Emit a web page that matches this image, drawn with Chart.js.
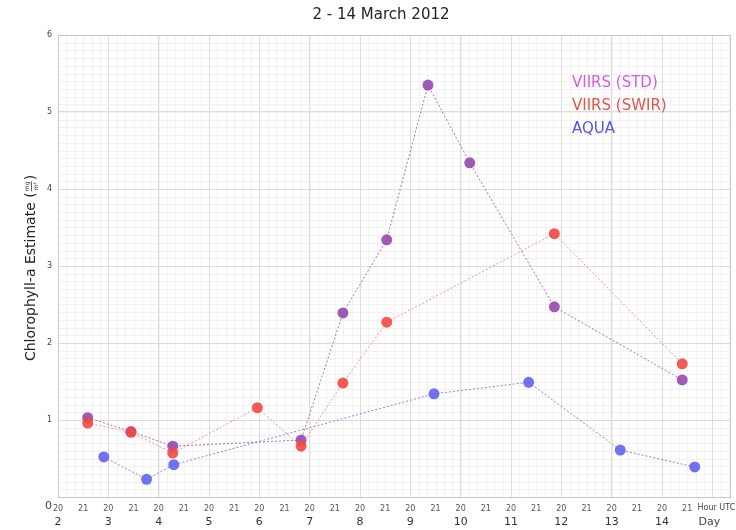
<!DOCTYPE html>
<html>
<head>
<meta charset="utf-8">
<script src="https://cdn.jsdelivr.net/npm/chart.js@4/dist/chart.umd.min.js"></script>
<style>
  html, body { margin: 0; padding: 0; background: #fff; }
  #wrap { width: 736px; height: 530px; position: relative; }
</style>
</head>
<body>
<div id="wrap"><canvas id="chart"></canvas></div>
<script>
// Данные (дни марта 2012, оценка хлорофилла-a)
const stdDays = [2.59, 3.45, 4.28, 6.83, 7.66, 8.53, 9.35, 10.18, 11.86, 14.40];
const stdValues = [1.03, 0.85, 0.66, 0.74, 2.39, 3.34, 5.35, 4.34, 2.47, 1.52];

const swirDays = [2.59, 3.45, 4.28, 5.96, 6.83, 7.66, 8.53, 11.86, 14.40];
const swirValues = [0.96, 0.84, 0.57, 1.16, 0.66, 1.48, 2.27, 3.42, 1.73];

const aquaDays = [2.91, 3.76, 4.30, 9.47, 11.35, 13.17, 14.65];
const aquaValues = [0.52, 0.23, 0.42, 1.34, 1.49, 0.61, 0.39];

const seriesNames = ['VIIRS (STD)', 'VIIRS (SWIR)', 'AQUA'];
const dayTicks = [2, 3, 4, 5, 6, 7, 8, 9, 10, 11, 12, 13, 14];
const hourLabels = ['20', '21'];
const titleText = '2 - 14 March 2012';

const FONT = '"DejaVu Sans", sans-serif';

function toPoints(xs, ys) {
    return xs.map((x, i) => ({ x: x, y: ys[i] }));
}

// Подписи, рамка и мелкая сетка
const decorPlugin = {
    id: 'decor',
    beforeDraw(chart) {
        const ctx = chart.ctx;
        const area = chart.chartArea;
        const xs = chart.scales.x;
        const ys = chart.scales.y;
        ctx.save();
        ctx.strokeStyle = '#f1f1f1';
        ctx.lineWidth = 1;
        for (let d = xs.min; d <= xs.max; d += 1 / 6) {
            const px = Math.round(xs.getPixelForValue(d)) + 0.5;
            ctx.beginPath(); ctx.moveTo(px, area.top); ctx.lineTo(px, area.bottom); ctx.stroke();
        }
        for (let v = ys.min; v <= ys.max + 1e-6; v += 0.1) {
            const py = Math.round(ys.getPixelForValue(v)) + 0.5;
            ctx.beginPath(); ctx.moveTo(area.left, py); ctx.lineTo(area.right, py); ctx.stroke();
        }
        ctx.restore();
    },
    afterDraw(chart) {
        const ctx = chart.ctx;
        const area = chart.chartArea;
        const xs = chart.scales.x;
        ctx.save();
        // рамка
        ctx.strokeStyle = '#c8c8c8';
        ctx.lineWidth = 1;
        ctx.strokeRect(area.left + 0.5, area.top + 0.5, area.right - area.left, area.bottom - area.top);

        // заголовок
        ctx.fillStyle = '#222';
        ctx.font = '15px ' + FONT;
        ctx.textAlign = 'center';
        ctx.textBaseline = 'middle';
        ctx.fillText(titleText, 381, 15);

        // ноль оси Y
        ctx.fillStyle = '#444';
        ctx.font = '11px ' + FONT;
        ctx.textAlign = 'right';
        ctx.fillText('0', area.left - 6, area.bottom + 9);

        // подписи справа снизу
        ctx.textAlign = 'center';
        ctx.font = '8px ' + FONT;
        ctx.fillText('Hour UTC', xs.getPixelForValue(15) + 4, area.bottom + 11);
        ctx.font = '11px ' + FONT;
        ctx.fillText('Day', xs.getPixelForValue(15) - 3, area.bottom + 25);

        // легенда
        ctx.font = '15px ' + FONT;
        ctx.textAlign = 'left';
        chart.data.datasets.forEach((ds, i) => {
            ctx.fillStyle = ds.legendColor;
            ctx.fillText(ds.label, 572, 83 + i * 23);
        });

        // подпись оси Y
        const midY = (area.top + area.bottom) / 2 + 2;
        ctx.translate(31, midY);
        ctx.rotate(-Math.PI / 2);
        ctx.fillStyle = '#222';
        ctx.font = '14px ' + FONT;
        const main = 'Chlorophyll-a Estimate ';
        const wMain = ctx.measureText(main).width;
        const wParen = ctx.measureText('(').width;
        const fracW = 12;
        const total = wMain + wParen * 2 + fracW;
        let x0 = -total / 2;
        ctx.textAlign = 'left';
        ctx.fillText(main, x0, 0);
        x0 += wMain;
        ctx.fillText('(', x0, 0);
        x0 += wParen;
        ctx.font = '6px ' + FONT;
        ctx.textAlign = 'center';
        ctx.fillText('mg', x0 + fracW / 2, -4);
        ctx.fillText('m³', x0 + fracW / 2, 5);
        ctx.strokeStyle = '#222';
        ctx.lineWidth = 0.7;
        ctx.beginPath(); ctx.moveTo(x0 + 1, 0.5); ctx.lineTo(x0 + fracW - 1, 0.5); ctx.stroke();
        x0 += fracW;
        ctx.font = '14px ' + FONT;
        ctx.textAlign = 'left';
        ctx.fillText(')', x0, 0);
        ctx.restore();
    }
};

function makeDataset(label, xs, ys, pointColor, lineColor, legendColor, order) {
    return {
        label: label,
        data: toPoints(xs, ys),
        borderColor: lineColor,
        backgroundColor: pointColor,
        pointBackgroundColor: pointColor,
        pointBorderWidth: 0,
        pointRadius: 5.5,
        borderWidth: 1,
        borderDash: [2, 2],
        tension: 0,
        fill: false,
        legendColor: legendColor,
        order: order
    };
}

function initChart() {
    new Chart(document.getElementById('chart'), {
        type: 'line',
        data: {
            datasets: [
                makeDataset(seriesNames[0], stdDays, stdValues, 'rgba(150, 72, 175, 0.9)', 'rgba(150, 80, 160, 0.8)', '#d35ee2', 2),
                makeDataset(seriesNames[1], swirDays, swirValues, 'rgba(240, 72, 66, 0.9)', 'rgba(240, 120, 120, 0.8)', '#e5534b', 1),
                makeDataset(seriesNames[2], aquaDays, aquaValues, 'rgba(98, 98, 240, 0.9)', 'rgba(110, 110, 235, 0.85)', '#5656e2', 3)
            ]
        },
        options: {
            responsive: true,
            maintainAspectRatio: false,
            animation: false,
            layout: { padding: { top: 35, right: 6, left: 0, bottom: 0 } },
            plugins: {
                legend: { display: false },
                title: { display: false },
                tooltip: { enabled: false }
            },
            scales: {
                x: {
                    type: 'linear',
                    position: 'bottom',
                    weight: 0,
                    min: 2,
                    max: 15.35,
                    afterBuildTicks: axis => {
                        const t = [];
                        dayTicks.forEach(d => { t.push({ value: d }); t.push({ value: d + 0.5 }); });
                        axis.ticks = t;
                    },
                    afterFit: axis => { axis.height = 14; },
                    ticks: {
                        autoSkip: false,
                        maxRotation: 0,
                        padding: 7,
                        color: '#555',
                        font: { family: FONT, size: 8 },
                        callback: v => Number.isInteger(v) ? hourLabels[0] : hourLabels[1]
                    },
                    grid: { display: false, drawTicks: false },
                    border: { display: false }
                },
                xDay: {
                    type: 'linear',
                    position: 'bottom',
                    weight: 1,
                    min: 2,
                    max: 15.35,
                    afterBuildTicks: axis => {
                        axis.ticks = dayTicks.concat([15]).map(d => ({ value: d }));
                    },
                    afterFit: axis => { axis.height = 19; },
                    ticks: {
                        autoSkip: false,
                        maxRotation: 0,
                        padding: 5,
                        color: '#333',
                        font: { family: FONT, size: 11 },
                        callback: v => dayTicks.includes(v) ? String(v) : ''
                    },
                    grid: { color: '#dcdcdc', drawTicks: false },
                    border: { display: false }
                },
                y: {
                    min: 0,
                    max: 6,
                    afterFit: axis => { axis.width = 58; },
                    ticks: {
                        stepSize: 1,
                        padding: 6,
                        color: '#444',
                        font: { family: FONT, size: 8 },
                        callback: v => v === 0 ? '' : String(v)
                    },
                    grid: { color: '#dcdcdc', drawTicks: false },
                    border: { display: false }
                }
            }
        },
        plugins: [decorPlugin]
    });
}

document.addEventListener('DOMContentLoaded', initChart);
</script>
</body>
</html>
